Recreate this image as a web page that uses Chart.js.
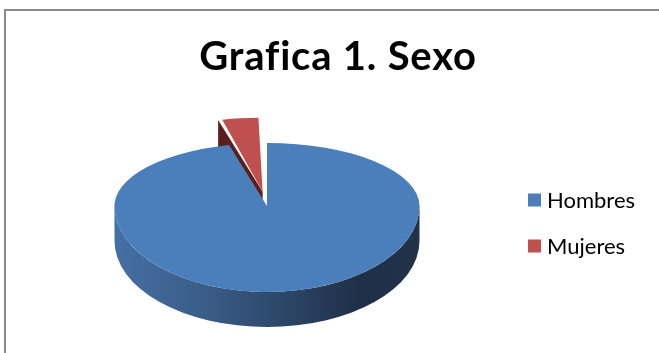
<!DOCTYPE html>
<html>
<head>
<meta charset="utf-8">
<script src="https://cdn.jsdelivr.net/npm/chart.js@4.4.1/dist/chart.umd.min.js"></script>
<style>
  html, body { margin: 0; padding: 0; background: #fff; overflow: hidden; }
  canvas { display: block; }
</style>
</head>
<body>
<canvas id="chart" width="659" height="353"></canvas>
<script>
// Chart content
const chartTitle = 'Grafica 1. Sexo';
const categories = ['Hombres', 'Mujeres'];
const values = [96, 4];

// Appearance
const topColors = ['#4B7FBC', '#C0504D'];
const sideColors = ['#2c4466', '#5a1f1d'];
const BACK_SCALE = 63 / 152.5;   // vertical squash of the far half of the disc
const FRONT_SCALE = 86 / 152.5;  // vertical squash of the near half
const DEPTH = 35;                // thickness of the disc in pixels

// Map a point of the flat pie onto the tilted disc
function project(cx, cy, x, y) {
  const k = y < cy ? BACK_SCALE : FRONT_SCALE;
  return [x, cy + (y - cy) * k];
}

// Where Chart.js actually places an arc (exploded slices are shifted by offset/4)
function arcGeometry(arc) {
  const o = (arc.options.offset || 0) / 4;
  const mid = (arc.startAngle + arc.endAngle) / 2;
  const fix = 1 - Math.sin(Math.min(Math.PI, arc.circumference));
  return { x: arc.x + Math.cos(mid) * o, y: arc.y + Math.sin(mid) * o, r: arc.outerRadius + o * fix };
}

const pie3d = {
  id: 'pie3d',
  beforeDatasetsDraw(chart) {
    const ctx = chart.ctx;
    const meta = chart.getDatasetMeta(0);
    const arcs = meta.data;
    const cx = arcs[0].x, cy = arcs[0].y;

    // radial side faces of lifted slices that turn towards the viewer
    arcs.forEach((arc, i) => {
      if (!arc.options.offset) return;
      const g = arcGeometry(arc);
      const a = project(cx, cy, g.x, g.y);
      const c = project(cx, cy, g.x + Math.cos(arc.startAngle) * g.r, g.y + Math.sin(arc.startAngle) * g.r);
      ctx.save();
      ctx.fillStyle = sideColors[i];
      ctx.beginPath();
      ctx.moveTo(a[0], a[1]);
      ctx.lineTo(c[0], c[1]);
      ctx.lineTo(c[0], c[1] + DEPTH);
      ctx.lineTo(a[0], a[1] + DEPTH);
      ctx.closePath();
      ctx.fill();
      ctx.restore();
    });

    // curved outer wall on the near half of each slice
    arcs.forEach((arc, i) => {
      const g = arcGeometry(arc);
      const ry = g.r * FRONT_SCALE;
      const s = arc.startAngle, e = arc.endAngle;
      for (let turn = -2; turn <= 2; turn++) {
        const lo = Math.max(s, turn * 2 * Math.PI);
        const hi = Math.min(e, turn * 2 * Math.PI + Math.PI);
        if (hi <= lo) continue;
        const grad = ctx.createLinearGradient(g.x - g.r, 0, g.x + g.r, 0);
        if (i === 0) {
          grad.addColorStop(0, '#4570a4');
          grad.addColorStop(0.3, '#3a5c87');
          grad.addColorStop(0.55, '#2d4769');
          grad.addColorStop(0.8, '#1f2f47');
          grad.addColorStop(1, '#213249');
        } else {
          grad.addColorStop(0, '#8a3432');
          grad.addColorStop(1, '#4a1917');
        }
        ctx.save();
        ctx.fillStyle = grad;
        ctx.beginPath();
        ctx.ellipse(g.x, cy, g.r, ry, 0, lo, hi);
        ctx.ellipse(g.x, cy + DEPTH, g.r, ry, 0, hi, lo, true);
        ctx.closePath();
        ctx.fill();
        ctx.restore();
      }
    });

    // top faces: the library draws the slices, squashed separately for each half
    [[0, cy, BACK_SCALE], [cy, chart.height, FRONT_SCALE]].forEach(([y0, y1, k]) => {
      ctx.save();
      ctx.beginPath();
      ctx.rect(0, y0 - 0.5, chart.width, y1 - y0 + 1);
      ctx.clip();
      ctx.translate(cx, cy);
      ctx.scale(1, k);
      ctx.translate(-cx, -cy);
      meta.controller.draw();
      ctx.restore();
    });
    return false;
  },
  afterDraw(chart) {
    const ctx = chart.ctx;
    ctx.save();
    // frame
    ctx.strokeStyle = '#8a8a8a';
    ctx.lineWidth = 2;
    ctx.beginPath();
    ctx.moveTo(5, chart.height);
    ctx.lineTo(5, 10);
    ctx.lineTo(chart.width, 10);
    ctx.stroke();

    // title
    ctx.fillStyle = '#000';
    ctx.font = 'bold 40px Lato';
    ctx.letterSpacing = '0.8px';
    ctx.textAlign = 'center';
    ctx.textBaseline = 'alphabetic';
    ctx.fillText(chartTitle, 338, 70);
    ctx.letterSpacing = '0px';

    // legend
    ctx.font = '22px Lato';
    ctx.textAlign = 'left';
    ctx.textBaseline = 'middle';
    categories.forEach((label, i) => {
      const y = 200 + i * 46;
      ctx.fillStyle = topColors[i];
      ctx.fillRect(528, y - 6.5, 13, 13);
      ctx.fillStyle = '#000';
      ctx.fillText(label, 547, y + 1);
    });
    ctx.restore();
  }
};

new Chart(document.getElementById('chart'), {
  type: 'pie',
  data: {
    labels: categories,
    datasets: [{
      data: values,
      backgroundColor: topColors,
      borderWidth: 0,
      offset: [0, 140]
    }]
  },
  options: {
    responsive: false,
    devicePixelRatio: 1,
    animation: false,
    radius: 152.5,
    layout: { padding: { left: 100, right: 225, top: 100, bottom: 41 } },
    events: [],
    plugins: {
      legend: { display: false },
      title: { display: false },
      tooltip: { enabled: false }
    }
  },
  plugins: [pie3d]
});
</script>
</body>
</html>
